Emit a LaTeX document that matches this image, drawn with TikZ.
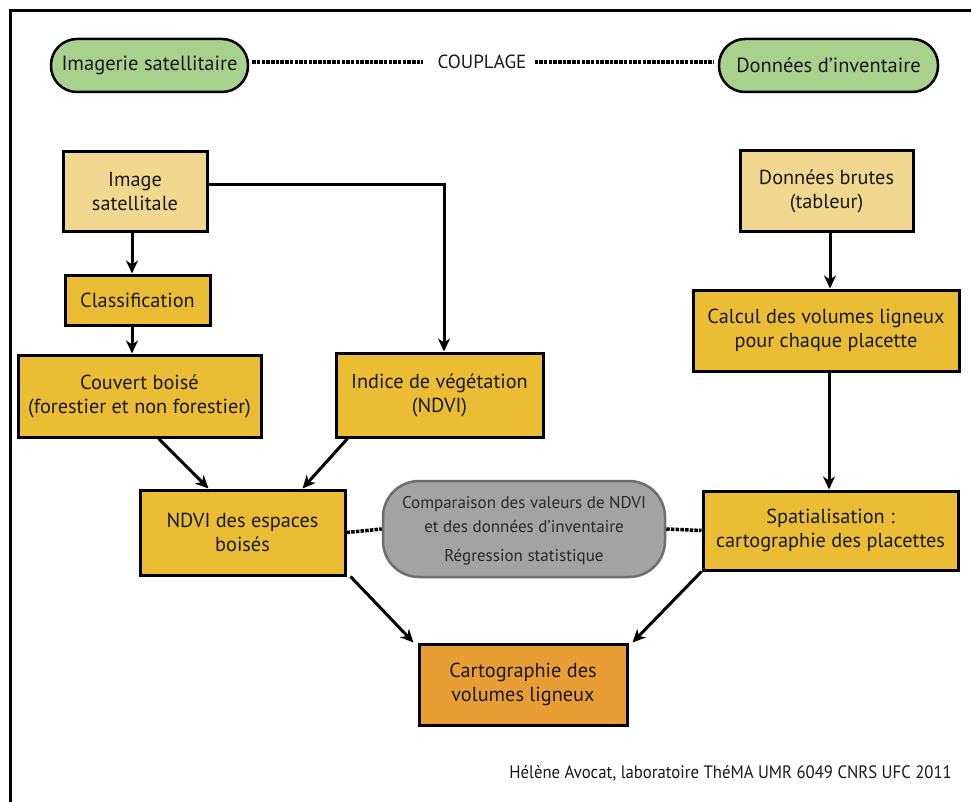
\documentclass[tikz,border=0pt]{standalone}
\usepackage{fontspec}
\setmainfont{PT Sans}
\usetikzlibrary{arrows.meta,calc}
\definecolor{pillgreen}{HTML}{A9D18E}
\definecolor{lightgold}{HTML}{F0D890}
\definecolor{gold}{HTML}{EBBD35}
\definecolor{orangebox}{HTML}{E99E35}
\definecolor{grayfill}{HTML}{A3A3A3}
\definecolor{grayline}{HTML}{6E6E6E}
\definecolor{graytext}{HTML}{2A2A2A}
\tikzset{
  boxbase/.style={draw=black, line width=3pt, align=center, inner sep=0pt,
    font=\fontsize{20.3}{24}\selectfont, text=black!90},
  lightbox/.style={boxbase, fill=lightgold},
  goldbox/.style={boxbase, fill=gold},
  orangebox/.style={boxbase, fill=orangebox},
  pill/.style={draw=black, line width=2.5pt, fill=pillgreen, rounded corners=26pt,
    inner sep=0pt, font=\fontsize{20.5}{24}\selectfont, text=black!90},
  graypill/.style={draw=grayline, line width=2.5pt, fill=grayfill, rounded corners=36pt,
    inner sep=0pt, align=center, text=graytext},
  arr/.style={line width=3pt, -{Stealth[length=13pt,width=12pt,inset=4pt]}},
  dots/.style={line width=3.5pt, dash pattern=on 3.5pt off 1.2pt},
}
\begin{document}
\begin{tikzpicture}[x=1pt,y=-1pt]
\useasboundingbox (0,0) rectangle (971,802);
\fill[white] (0,0) rectangle (971,802);
% frame
\draw[line width=3pt] (971,11) -- (10,11) -- (10,802);

% top row
\node[pill, minimum width=197pt, minimum height=53pt] (gL) at (149.5,65.5) {Imagerie satellitaire};
\node[pill, minimum width=219pt, minimum height=53pt] (gR) at (828.5,65.5) {Données d’inventaire};
\node[font=\fontsize{19}{23}\selectfont, text=black!90, inner sep=0pt] (coup) at (482,62) {COUPLAGE};
\draw[dots] (gL.east |- coup.west) ++(3pt,0) -- ([xshift=-14pt]coup.west);
\draw[dots] ([xshift=8pt]coup.east) -- ([xshift=-4pt]gR.west |- coup.east);

% left branch
\node[lightbox, minimum width=144pt, minimum height=80pt] (imgsat) at (135,192) {Image\\satellitale};
\node[goldbox, minimum width=145pt, minimum height=50pt] (classif) at (137.5,300) {Classification};
\node[goldbox, minimum width=243pt, minimum height=82pt] (couvert) at (139.5,396) {Couvert boisé\\(forestier et non forestier)};
\node[goldbox, minimum width=207pt, minimum height=84pt] (indice) at (439.5,395) {Indice de végétation\\(NDVI)};
\node[goldbox, minimum width=205pt, minimum height=85pt] (ndvi) at (242.5,532.5) {NDVI des espaces\\boisés};

% right branch
\node[lightbox, minimum width=173pt, minimum height=81pt] (brutes) at (826.5,191.5) {Données brutes\\(tableur)};
\node[goldbox, minimum width=266pt, minimum height=81pt] (calcul) at (826,330.5) {Calcul des volumes ligneux\\pour chaque placette};
\node[goldbox, minimum width=255pt, minimum height=79pt] (spat) at (830.5,530.5) {Spatialisation :\\cartographie des placettes};

% centre
\node[graypill, minimum width=282pt, minimum height=96pt] (comp) at (524,529) {};
\node[text=graytext, font=\fontsize{17}{24}\selectfont, align=center, inner sep=0pt] (comptxt) at (524,515) {Comparaison des valeurs de NDVI\\et des données d’inventaire};
\node[text=graytext, font=\fontsize{17}{24}\selectfont, inner sep=0pt] (regr) at (524,557) {Régression statistique};
\node[orangebox, minimum width=208pt, minimum height=81pt] (carto) at (523,684.5) {Cartographie des\\volumes ligneux};

% connectors
\draw[arr] ([xshift=-3pt]imgsat.south) -- ([xshift=-3pt]imgsat.south |- classif.north);
\draw[arr] ([xshift=-5.5pt]classif.south) -- ([xshift=-5.5pt]classif.south |- couvert.north);
\draw[arr] ([yshift=7pt]imgsat.east) -| ([xshift=4.5pt]indice.north);
\draw[arr] ([xshift=3.5pt]brutes.south) -- ([xshift=3.5pt]brutes.south |- calcul.north);
\draw[arr] ([xshift=3pt]calcul.south) -- ([xshift=3pt]calcul.south |- spat.north);
\draw[arr] ([xshift=19pt]couvert.south) -- ([xshift=-34pt]ndvi.north);
\draw[arr] ([xshift=-92pt]indice.south) -- ([xshift=60pt]ndvi.north);
\draw[arr] ([xshift=4pt]ndvi.south east) -- ([xshift=-4pt]carto.north west);
\draw[arr] (spat.south west) -- ([xshift=4pt]carto.north east);
\draw[dots] (ndvi.east) -- (comp.west);
\draw[dots] (comp.east) -- (spat.west);

% footer
\node[anchor=east, inner sep=0pt, text=black!90] (foot) at (952,773) {\scalebox{0.93}[1]{\fontsize{18}{20}\selectfont Hélène Avocat, laboratoire ThéMA UMR 6049 CNRS UFC 2011}};
\end{tikzpicture}
\end{document}
